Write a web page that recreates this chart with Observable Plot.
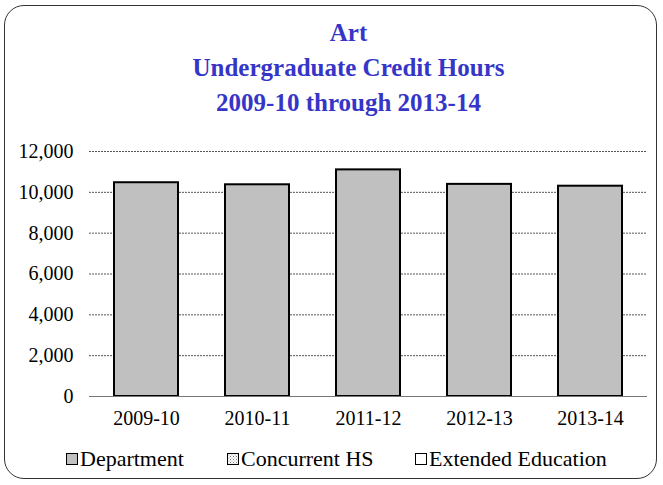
<!DOCTYPE html>
<html>
<head>
<meta charset="utf-8">
<script src="https://cdn.jsdelivr.net/npm/d3@7"></script>
<script src="https://cdn.jsdelivr.net/npm/@observablehq/plot@0.6"></script>
<style>
  html, body { margin: 0; padding: 0; background: #fff; }
  #frame {
    position: relative; width: 663px; height: 485px; overflow: hidden;
    font-family: "Liberation Serif", "Times New Roman", serif;
  }
  #border {
    position: absolute; left: 4px; top: 5px; width: 653px; height: 474px;
    border: 1.2px solid #333; border-radius: 20px; box-sizing: border-box;
  }
  #title {
    position: absolute; left: 17px; width: 663px; top: 15px; text-align: center;
    color: #3535C8; font-weight: bold; font-size: 25px; line-height: 35px;
  }
  #chart { position: absolute; left: 0; top: 140px; }
  .leg { position: absolute; top: 447px; display: flex; align-items: center; font-size: 22px; color: #000; white-space: nowrap; }
  .leg svg { margin-right: 2px; }
</style>
</head>
<body>
<div id="frame">
  <div id="border"></div>
  <div id="title">Art<br>Undergraduate Credit Hours<br>2009-10 through 2013-14</div>
  <div id="chart"></div>
  <div id="legend"></div>
</div>
<script>
const years = ["2009-10", "2010-11", "2011-12", "2012-13", "2013-14"];
const seriesNames = ["Department", "Concurrent HS", "Extended Education"];
const department = [10470, 10370, 11100, 10390, 10300];
const concurrentHS = [0, 0, 0, 0, 0];
const extendedEducation = [0, 0, 0, 0, 0];
const yTicks = [0, 2000, 4000, 6000, 8000, 10000, 12000];

const fills = {
  "Department": "#C0C0C0",
  "Concurrent HS": "url(#chsPattern)",
  "Extended Education": "#FFFFFF"
};

const seriesValues = [department, concurrentHS, extendedEducation];
const data = [];
seriesNames.forEach((s, si) => {
  years.forEach((y, yi) => data.push({ year: y, series: s, hours: seriesValues[si][yi] }));
});
const drawn = data.filter(d => d.hours > 0);

const font = '"Liberation Serif", "Times New Roman", serif';

const chart = Plot.plot({
  width: 663,
  height: 300,
  marginTop: 11,
  marginBottom: 44,
  marginLeft: 89,
  marginRight: 16,
  style: { fontFamily: font, fontSize: "20px", color: "#000", background: "transparent", overflow: "visible" },
  x: { domain: years, paddingInner: 0.42, paddingOuter: 0.21, label: null },
  y: { domain: [0, 12000], label: null },
  marks: [
    Plot.ruleY(yTicks.filter(v => v > 0), { stroke: "#555", strokeWidth: 1, strokeDasharray: "2,1" }),
    Plot.barY(drawn, Plot.stackY({
      x: "year", y: "hours", z: "series",
      order: seriesNames,
      fill: d => fills[d.series],
      stroke: "#000", strokeWidth: 2
    })),
    Plot.ruleY([0], { stroke: "#777", strokeWidth: 1.2 }),
    Plot.axisY({ ticks: yTicks, tickFormat: d3.format(","), tickSize: 0, tickPadding: 16, fontSize: 20 }),
    Plot.axisX({ tickSize: 0, tickPadding: 14, fontSize: 20 })
  ]
});

// pattern for Concurrent HS
const defs = d3.select(chart).insert("defs", ":first-child");
const pat = defs.append("pattern").attr("id", "chsPattern").attr("width", 3).attr("height", 3).attr("patternUnits", "userSpaceOnUse");
pat.append("rect").attr("width", 3).attr("height", 3).attr("fill", "#fff");
pat.append("rect").attr("width", 1).attr("height", 1).attr("fill", "#777");
pat.append("rect").attr("x", 1.5).attr("y", 1.5).attr("width", 1).attr("height", 1).attr("fill", "#999");

document.getElementById("chart").appendChild(chart);

// legend
const legendX = [66, 227, 415];
const legend = d3.select("#legend");
seriesNames.forEach((s, i) => {
  const item = legend.append("div").attr("class", "leg").style("left", legendX[i] + "px").style("height", "24px");
  const sw = item.append("svg").attr("width", 12).attr("height", 12);
  if (s === "Concurrent HS") {
    const p = sw.append("defs").append("pattern").attr("id", "legPat").attr("width", 3).attr("height", 3).attr("patternUnits", "userSpaceOnUse");
    p.append("rect").attr("width", 3).attr("height", 3).attr("fill", "#fff");
    p.append("rect").attr("width", 1).attr("height", 1).attr("fill", "#777");
    p.append("rect").attr("x", 1.5).attr("y", 1.5).attr("width", 1).attr("height", 1).attr("fill", "#999");
  }
  sw.append("rect").attr("x", 0.5).attr("y", 0.5).attr("width", 11).attr("height", 11)
    .attr("fill", s === "Concurrent HS" ? "url(#legPat)" : fills[s]).attr("stroke", "#000").attr("stroke-width", 1);
  item.append("span").text(s);
});
</script>
</body>
</html>
